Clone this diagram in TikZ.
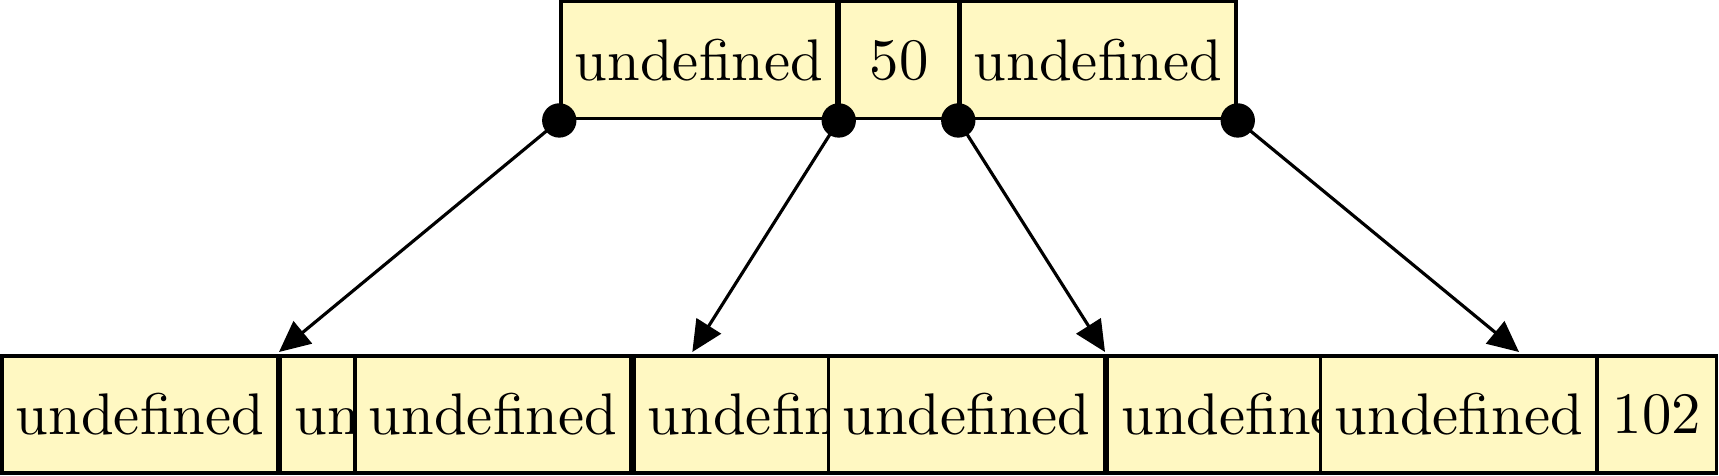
\documentclass[tikz,border=0pt]{standalone}
\usetikzlibrary{arrows.meta}
\definecolor{cellyellow}{RGB}{255,248,194}
\tikzset{
  cell/.style={draw, fill=cellyellow, line width=0.6pt, inner sep=0pt,
    minimum height=20.42pt, anchor=center, font=\fontsize{10.25}{12}\selectfont},
  wide/.style={cell, minimum width=48.18pt},
  narrow/.style={cell, minimum width=20.77pt},
  dot/.style={circle, fill=black, inner sep=0pt, minimum size=6pt},
  link/.style={line width=0.55pt, -{Triangle[length=5.4pt,width=5pt]}}
}
\begin{document}
\begin{tikzpicture}[x=0.17455pt, y=-0.17455pt]
\useasboundingbox (0,0) rectangle (1719,476);
% top node
\node[wide]   (tA) at (699,60.25) {undefined};
\node[narrow] (tB) at (899,60.25) {50};
\node[wide]   (tC) at (1098,60.25) {undefined};
% bottom row
\node[wide]   (b1) at (140,414.6) {undefined};
\node[wide]   (b2) at (418.5,414.6) {undefined};
\node[wide]   (b3) at (493,414.6) {undefined};
\node[wide]   (b4) at (772,414.6) {undefined};
\node[wide]   (b5) at (966.5,414.6) {undefined};
\node[wide]   (b6) at (1245.5,414.6) {undefined};
\node[wide]   (b7) at (1458.7,414.6) {undefined};
\node[narrow] (b8) at (1657,414.6) {102};
% pointer dots
\node[dot] (d1) at (tA.south west) {};
\node[dot] (d2) at (tA.south east) {};
\node[dot] (d3) at (tC.south west) {};
\node[dot] (d4) at (tC.south east) {};
% arrow targets
\coordinate (e1) at (279,352);
\coordinate (e2) at (692.3,352);
\coordinate (e3) at (1105,352);
\coordinate (e4) at (1519,352);
\draw[link] (d1.center) -- (e1);
\draw[link] (d2.center) -- (e2);
\draw[link] (d3.center) -- (e3);
\draw[link] (d4.center) -- (e4);
\end{tikzpicture}
\end{document}
